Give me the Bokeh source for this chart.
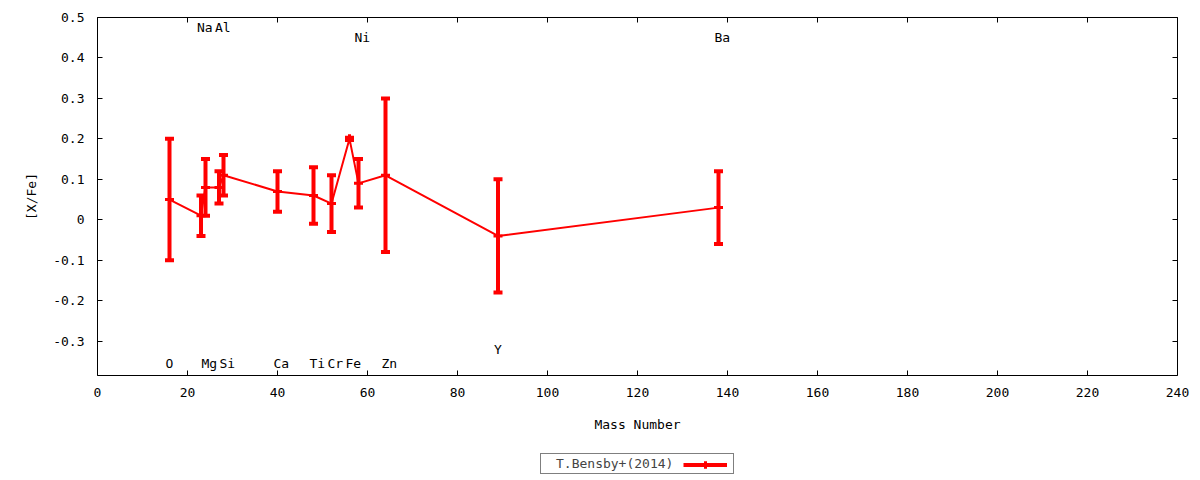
from bokeh.plotting import figure
from bokeh.layouts import column
from bokeh.models import (ColumnDataSource, LinearAxis, SingleIntervalTicker,
                          CustomJSTickFormatter, Range1d, Legend, LegendItem)
from bokeh.core.properties import value
from bokeh.embed import file_html
from bokeh.resources import INLINE

# [X/Fe] abundances, T.Bensby+(2014)
elements = ["O", "Na", "Mg", "Al", "Si", "Ca", "Ti", "Cr", "Fe", "Ni", "Zn", "Y", "Ba"]
mass = [16, 23, 24, 27, 28, 40, 48, 52, 56, 58, 64, 89, 138]
xfe = [0.05, 0.01, 0.08, 0.08, 0.11, 0.07, 0.06, 0.04, 0.20, 0.09, 0.11, -0.04, 0.03]
err = [0.15, 0.05, 0.07, 0.04, 0.05, 0.05, 0.07, 0.07, 0.003, 0.06, 0.19, 0.14, 0.09]
# where each element name is written (in [X/Fe] units)
label_y = [-0.355, 0.475, -0.355, 0.475, -0.355, -0.355, -0.355, -0.355, -0.355,
           0.45, -0.355, -0.32, 0.45]

FONT = "DejaVu Sans Mono"
RED = "#ff0000"

lo = [v - e for v, e in zip(xfe, err)]
hi = [v + e for v, e in zip(xfe, err)]
src = ColumnDataSource(data=dict(x=mass, y=xfe, lo=lo, hi=hi, name=elements, ly=label_y))


def draw_series(fig):
    fig.line("x", "y", source=src, color=RED, line_width=2)
    bars = fig.segment(x0="x", y0="lo", x1="x", y1="hi", source=src, color=RED, line_width=4)
    fig.scatter("x", "lo", source=src, marker="dash", size=9, line_width=4, color=RED)
    fig.scatter("x", "hi", source=src, marker="dash", size=9, line_width=4, color=RED)
    pts = fig.scatter("x", "y", source=src, marker="cross", size=9, line_width=3, color=RED)
    return bars, pts


p = figure(width=1200, height=440, output_backend="svg", toolbar_location=None, tools="",
           x_range=Range1d(0, 240), y_range=Range1d(-0.385, 0.5),
           min_border_left=97, min_border_right=23, min_border_top=17, min_border_bottom=65)
p.xgrid.visible = False
p.ygrid.visible = False
p.outline_line_color = "black"
p.outline_line_width = 1

fmt = CustomJSTickFormatter(code="return (Math.round(tick*10)/10).toString();")
for ax, tick in ((p.xaxis[0], SingleIntervalTicker(interval=20, num_minor_ticks=0)),
                 (p.yaxis[0], SingleIntervalTicker(interval=0.1, num_minor_ticks=0))):
    ax.ticker = tick
    ax.axis_line_color = None
    ax.major_tick_in = 5
    ax.major_tick_out = 0
    ax.minor_tick_line_color = None
    ax.major_label_text_font = FONT
    ax.major_label_text_font_size = "13px"
    ax.major_label_text_color = "black"
    ax.axis_label_text_font = FONT
    ax.axis_label_text_font_size = "13px"
    ax.axis_label_text_font_style = "normal"
    ax.axis_label_text_color = "black"
p.yaxis[0].formatter = fmt
p.xaxis.axis_label = "Mass Number"
p.yaxis.axis_label = "[X/Fe]"
p.yaxis.major_label_standoff = 13
p.yaxis.axis_label_standoff = 11
p.xaxis.major_label_standoff = 12
p.xaxis.axis_label_standoff = 17

# mirrored ticks on top and right
blank = CustomJSTickFormatter(code="return '';")
for side, tick in (("above", SingleIntervalTicker(interval=20, num_minor_ticks=0)),
                   ("right", SingleIntervalTicker(interval=0.1, num_minor_ticks=0))):
    ax = LinearAxis(ticker=tick, formatter=blank, axis_line_color=None, major_tick_in=5,
                    major_tick_out=0, minor_tick_line_color=None, major_label_standoff=0)
    p.add_layout(ax, side)

draw_series(p)
p.text("x", "ly", text="name", source=src, text_font=value(FONT),
       text_font_size="13px", text_align="left", text_baseline="middle",
       x_offset=-4, text_color="black")

# key strip under the chart: same series, drawn out of view, only its key shows
k = figure(width=1200, height=40, output_backend="svg", toolbar_location=None, tools="",
           x_range=Range1d(1000, 1001), y_range=Range1d(1000, 1001),
           x_axis_type=None, y_axis_type=None, min_border=0)
k.xgrid.visible = False
k.ygrid.visible = False
k.outline_line_color = None
k_bars, k_pts = draw_series(k)

key_text = Legend(items=[LegendItem(label="T.Bensby+(2014)", renderers=[])],
                  location=(443, 6), glyph_width=15, glyph_height=19, label_standoff=0,
                  label_width=177, label_height=19, padding=0, margin=0, spacing=0,
                  label_text_font=FONT, label_text_font_size="13px",
                  border_line_color="black", border_line_width=1,
                  background_fill_color="white", background_fill_alpha=1)
key_glyph = Legend(items=[LegendItem(label="", renderers=[k_bars, k_pts])],
                   location=(586, 6), glyph_width=44, glyph_height=19, label_standoff=0,
                   label_width=0, label_height=19, padding=0, margin=0, spacing=0,
                   border_line_color=None, background_fill_alpha=0)
k.add_layout(key_text)
k.add_layout(key_glyph)

open("out.html", "w").write(file_html(column(p, k, spacing=0), INLINE))
